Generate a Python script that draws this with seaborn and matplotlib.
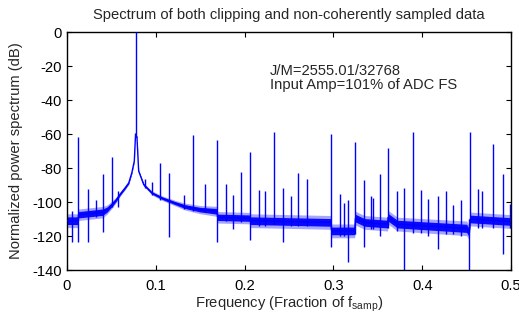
import numpy as np
import pandas as pd
import matplotlib
matplotlib.use("Agg")
import matplotlib.pyplot as plt
import seaborn as sns

# ---- data ----
# noise floor / skirt breakpoints (frequency as fraction of fs, level in dB)
floor_freq = [0.0, 0.0125, 0.0130, 0.040, 0.045, 0.0507, 0.055, 0.060, 0.065,
              0.0695, 0.073, 0.0758, 0.0772, 0.0788, 0.0807, 0.0864, 0.0957,
              0.107, 0.122, 0.133, 0.150, 0.1690, 0.1696, 0.2062, 0.2068,
              0.2972, 0.2980, 0.3240, 0.3248, 0.335, 0.3610, 0.3616, 0.372,
              0.450, 0.4528, 0.4542, 0.500]
floor_db = [-111, -111, -107.5, -106, -104.5, -101.5, -99, -95.3, -92,
            -88.8, -82.8, -75.9, -60, -62, -81.8, -89.8, -94.7,
            -97.7, -100.7, -102.7, -104.5, -105.5, -109, -109.5, -111,
            -112, -117, -117, -109.5, -112, -113, -109, -113,
            -115.5, -118, -110, -111.5]
# half thickness of the noise band at each breakpoint (dB)
band_db = [3, 3, 2.5, 2.5, 2, 1.6, 1.2, 0.9, 0.8,
           0.7, 0.5, 0.4, 0.4, 0.4, 0.5, 0.7, 0.9,
           1.0, 1.2, 1.5, 1.8, 2.2, 2.5, 2.5, 3,
           3, 3, 3, 3, 3, 3, 3, 3,
           3.2, 3.2, 3, 3]

# spurs: frequency, top level, lowest level
spur_freq = [0.0053, 0.0128, 0.0233, 0.0323, 0.0402, 0.0503, 0.0578, 0.07797,
             0.0878, 0.0953, 0.1051, 0.1145, 0.1321, 0.1423, 0.155, 0.1693,
             0.1787, 0.1873, 0.1963, 0.2064, 0.2159, 0.223, 0.2335, 0.2433,
             0.2519, 0.2605, 0.2706, 0.2976, 0.3078, 0.312, 0.3164, 0.3243,
             0.3348, 0.3423, 0.345, 0.3525, 0.3611, 0.372, 0.3795, 0.39,
             0.399, 0.4065, 0.4174, 0.4264, 0.435, 0.4437, 0.4523, 0.4538,
             0.4628, 0.4677, 0.4801, 0.4907, 0.4989]
spur_top = [-105.0, -61.6, -92.4, -98.7, -83.8, -73.5, -93.8, 0.0,
            -86.4, -88.4, -77.3, -82.8, -95.7, -60.4, -89.4, -63.6,
            -89.4, -95.7, -82.2, -70.5, -92.7, -93.8, -59.0, -91.8,
            -96.7, -82.8, -86.2, -60.0, -95.3, -100.7, -98.7, -64.6,
            -86.8, -96.3, -97.6, -83.4, -68.0, -93.8, -91.8, -58.6,
            -93.2, -98.3, -96.7, -93.3, -101.7, -99.1, -110.0, -59.0,
            -92.2, -93.8, -66.0, -83.8, -101.0]
spur_low = [-123.5, -123.5, -123.5, -109, -117.6, -103, -102.7, -62,
            -92, -96, -99, -120.5, -104, -105, -106, -123.5,
            -111, -115.6, -112, -122.5, -114, -114, -113, -123.5,
            -114, -114, -114, -126.5, -120, -120, -135, -119,
            -126.5, -116, -116, -120, -115, -117, -142, -118,
            -118, -120, -127.5, -119, -119, -120, -142, -112,
            -115, -115, -115, -130.5, -115]

x_ticks = [0, 0.1, 0.2, 0.3, 0.4, 0.5]
x_tick_labels = ["0", "0.1", "0.2", "0.3", "0.4", "0.5"]
y_ticks = [0, -20, -40, -60, -80, -100, -120, -140]
y_tick_labels = ["0", "-20", "-40", "-60", "-80", "-100", "-120", "-140"]

title = "Spectrum of both clipping and non-coherently sampled data"
xlabel = r"Frequency (Fraction of $\mathregular{f_{samp}}$)"
ylabel = "Normalized power spectrum (dB)"
note_lines = ["J/M=2555.01/32768", "Input Amp=101% of ADC FS"]

# ---- style ----
sns.set_style("ticks")
plt.rcParams["font.family"] = ["Liberation Sans", "DejaVu Sans"]
plt.rcParams["mathtext.fontset"] = "custom"
plt.rcParams["mathtext.rm"] = "Liberation Sans"
plt.rcParams["axes.unicode_minus"] = False

FS = 10.6
blue = "#0000ff"

fig = plt.figure(figsize=(5.19, 3.20), dpi=100)
ax = fig.add_axes([67 / 519, 1 - 270 / 320, 444 / 519, 238 / 320])

df = pd.DataFrame({"freq": floor_freq, "db": floor_db, "band": band_db})
# fuzzy outer edge of the noise band, then its dense core
ax.fill_between(df["freq"], df["db"] - 1.35 * df["band"],
                df["db"] + 1.35 * df["band"],
                color=blue, lw=0, alpha=0.35, zorder=2)
ax.fill_between(df["freq"], df["db"] - 0.75 * df["band"],
                df["db"] + 0.75 * df["band"],
                color=blue, lw=0, alpha=0.95, zorder=2)
sns.lineplot(data=df, x="freq", y="db", ax=ax, color=blue, lw=1.0,
             estimator=None, sort=False, zorder=3)

sp = pd.DataFrame({"freq": spur_freq, "top": spur_top, "low": spur_low})
ax.vlines(sp["freq"], sp["low"], sp["top"], color=blue, lw=1.0, zorder=3)

ax.set_xlim(0, 0.5)
ax.set_ylim(-140, 0)
ax.set_xticks(x_ticks)
ax.set_xticklabels(x_tick_labels)
ax.set_yticks(y_ticks)
ax.set_yticklabels(y_tick_labels)
ax.tick_params(direction="in", top=True, right=True, length=3.5, width=0.8,
               labelsize=FS, colors="black")
ax.tick_params(axis="x", pad=6.5)
for s in ax.spines.values():
    s.set_visible(True)
    s.set_linewidth(1.0)
    s.set_color("black")

ax.set_title(title, fontsize=FS, pad=9)
ax.set_xlabel(xlabel, fontsize=FS, labelpad=1.5)
ax.set_ylabel(ylabel, fontsize=FS, labelpad=7)

ax.text(0.2286, -25.3, note_lines[0], fontsize=FS, va="baseline", ha="left")
ax.text(0.2286, -33.6, note_lines[1], fontsize=FS, va="baseline", ha="left")

fig.savefig("out.png", dpi=100)
